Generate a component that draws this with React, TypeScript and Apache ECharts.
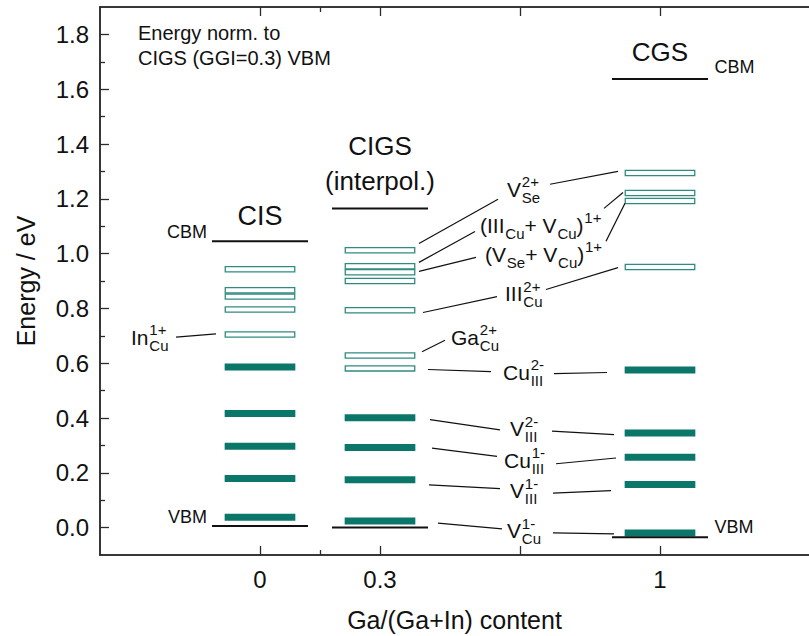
import React, { useEffect, useRef } from "react";
import * as echarts from "echarts";

// Ga/(Ga+In) content of each absorber column
const GGI = [0, 0.3, 1];
const COLUMN_NAMES = ["CIS", "CIGS", "CGS"];

// Defect transition levels in eV (normalised to the CIGS VBM)
const CIS_DONORS = [0.943, 0.866, 0.843, 0.796, 0.705];
const CIS_ACCEPTORS = [0.586, 0.416, 0.297, 0.179, 0.038];
const CIGS_DONORS = [1.012, 0.954, 0.932, 0.9, 0.793, 0.628, 0.581];
const CIGS_ACCEPTORS = [0.401, 0.292, 0.175, 0.024];
const CGS_DONORS = [1.294, 1.221, 1.192, 0.951];
const CGS_ACCEPTORS = [0.575, 0.345, 0.257, 0.157, -0.02];

// Band edges per column
const CBM = [1.045, 1.165, 1.637];
const VBM = [0.006, 0.0, -0.035];

// Axis ticks
const Y_TICKS = [0, 0.2, 0.4, 0.6, 0.8, 1.0, 1.2, 1.4, 1.6, 1.8];
const Y_MINOR_TICKS = [0.1, 0.3, 0.5, 0.7, 0.9, 1.1, 1.3, 1.5, 1.7];
const X_TICKS = [0, 0.3, 0.65, 1];
const X_TICK_LABELS = [0, 0.3, 1];
const X_MINOR_TICKS = [0.15];

// Defect names (_{} subscript, ^{} superscript)
const DEFECT_LABELS = [
  "In_{Cu}^{1+}",
  "V_{Se}^{2+}",
  "(III_{Cu}+ V_{Cu})^{1+}",
  "(V_{Se}+ V_{Cu})^{1+}",
  "III_{Cu}^{2+}",
  "Ga_{Cu}^{2+}",
  "Cu_{III}^{2-}",
  "V_{III}^{2-}",
  "Cu_{III}^{1-}",
  "V_{III}^{1-}",
  "V_{Cu}^{1-}",
];

// ---- layout (data coordinates) ----
const LABEL_ANCHORS: [number, number][] = [
  [-0.3225, 0.694],
  [0.6175, 1.234],
  [0.55, 1.103],
  [0.5625, 0.997],
  [0.6125, 0.854],
  [0.4775, 0.695],
  [0.6075, 0.566],
  [0.625, 0.36],
  [0.61, 0.246],
  [0.625, 0.135],
  [0.6175, -0.011],
];

const CONNECTORS: [number, number, number, number][] = [
  [-0.21, 0.695, -0.11, 0.707],
  [0.725, 1.253, 0.895, 1.3],
  [0.595, 1.198, 0.3975, 1.037],
  [0.5375, 1.081, 0.3975, 0.968],
  [0.86, 1.165, 0.9075, 1.223],
  [0.54, 0.986, 0.3975, 0.935],
  [0.865, 1.045, 0.9125, 1.184],
  [0.5925, 0.843, 0.4075, 0.785],
  [0.715, 0.869, 0.895, 0.949],
  [0.4625, 0.684, 0.405, 0.642],
  [0.42, 0.577, 0.5775, 0.569],
  [0.735, 0.562, 0.8675, 0.566],
  [0.425, 0.394, 0.6, 0.357],
  [0.73, 0.352, 0.885, 0.339],
  [0.43, 0.29, 0.5925, 0.26],
  [0.74, 0.233, 0.89, 0.254],
  [0.4225, 0.156, 0.6, 0.142],
  [0.7325, 0.126, 0.8775, 0.135],
  [0.445, 0.016, 0.605, -0.005],
  [0.7325, -0.019, 0.885, -0.023],
];

type Note = { text: string; x: number; y: number; size: number; align: "left" | "center" | "right" };
const NOTES: Note[] = [
  { text: "Energy norm. to", x: -0.305, y: 1.805, size: 20, align: "left" },
  { text: "CIGS (GGI=0.3) VBM", x: -0.305, y: 1.713, size: 20, align: "left" },
  { text: COLUMN_NAMES[0], x: GGI[0], y: 1.137, size: 27, align: "center" },
  { text: COLUMN_NAMES[1], x: GGI[1], y: 1.393, size: 26, align: "center" },
  { text: "(interpol.)", x: GGI[1], y: 1.265, size: 26, align: "center" },
  { text: COLUMN_NAMES[2], x: GGI[2], y: 1.735, size: 26, align: "center" },
  { text: "CBM", x: 1.136, y: 1.681, size: 18, align: "left" },
  { text: "CBM", x: -0.1325, y: 1.079, size: 18, align: "right" },
  { text: "VBM", x: -0.1325, y: 0.038, size: 18, align: "right" },
  { text: "VBM", x: 1.136, y: 0.001, size: 18, align: "left" },
];

const FONT = '"Liberation Sans", Arial, Helvetica, sans-serif';
const INK = "#111111";
const AXIS_COLOR = "#2b2b2b";
const ACCEPTOR_COLOR = "#0b776b";
const DONOR_STROKE = "#2f8c81";
const LEVEL_WIDTH = 0.1767;
const BAND_WIDTH = 0.24;
const MAIN_SIZE = 21;
const SCRIPT_SIZE = 15;

let measureCtx: CanvasRenderingContext2D | null = null;
function textWidth(text: string, size: number): number {
  if (!measureCtx) measureCtx = document.createElement("canvas").getContext("2d");
  if (!measureCtx) return text.length * size * 0.55;
  measureCtx.font = `${size}px ${FONT}`;
  return measureCtx.measureText(text).width;
}

type Token = { kind: "text" | "sub" | "sup"; text: string };
function tokenize(s: string): Token[] {
  const out: Token[] = [];
  let buf = "";
  let i = 0;
  while (i < s.length) {
    const c = s[i];
    if ((c === "_" || c === "^") && s[i + 1] === "{") {
      if (buf) out.push({ kind: "text", text: buf });
      buf = "";
      const end = s.indexOf("}", i + 2);
      out.push({ kind: c === "_" ? "sub" : "sup", text: s.slice(i + 2, end) });
      i = end + 1;
    } else {
      buf += c;
      i++;
    }
  }
  if (buf) out.push({ kind: "text", text: buf });
  return out;
}

// Lays out a label with stacked sub/superscripts as a row of text pieces
function scriptedText(s: string): any[] {
  const tokens = tokenize(s);
  const children: any[] = [];
  let x = 0;
  const mk = (text: string, px: number, py: number, size: number) => ({
    type: "text",
    x: px,
    y: py,
    style: {
      text,
      fontSize: size,
      lineHeight: size,
      fontFamily: FONT,
      fill: INK,
      align: "left",
      verticalAlign: "middle",
    },
  });
  for (let i = 0; i < tokens.length; i++) {
    const t = tokens[i];
    if (t.kind === "text") {
      children.push(mk(t.text, x, 0, MAIN_SIZE));
      x += textWidth(t.text, MAIN_SIZE);
    } else {
      const next = tokens[i + 1];
      const stacked = next && next.kind !== "text" && next.kind !== t.kind;
      const group = stacked ? [t, next] : [t];
      let adv = 0;
      for (const g of group) {
        const dy = g.kind === "sub" ? 8 : -7.6;
        children.push(mk(g.text, x + 0.8, dy, SCRIPT_SIZE));
        adv = Math.max(adv, textWidth(g.text, SCRIPT_SIZE));
      }
      x += adv + 0.8;
      if (stacked) i++;
    }
  }
  return children;
}

export default function App() {
  const ref = useRef<HTMLDivElement>(null);

  useEffect(() => {
    if (!ref.current) return;
    const chart = echarts.init(ref.current, null, { renderer: "svg" });

    // level data: [ggi, energy, kind]  kind 0 = acceptor, 1 = donor, 2 = band edge
    const levels: number[][] = [];
    const addLevels = (x: number, vals: number[], kind: number) =>
      vals.forEach((v) => levels.push([x, v, kind]));
    addLevels(GGI[0], CIS_DONORS, 1);
    addLevels(GGI[0], CIS_ACCEPTORS, 0);
    addLevels(GGI[1], CIGS_DONORS, 1);
    addLevels(GGI[1], CIGS_ACCEPTORS, 0);
    addLevels(GGI[2], CGS_DONORS, 1);
    addLevels(GGI[2], CGS_ACCEPTORS, 0);
    GGI.forEach((g, i) => {
      levels.push([g, CBM[i], 2]);
      levels.push([g, VBM[i], 2]);
    });

    const xMin = -0.4;
    const xMax = 1.3725;
    const yMin = -0.1;
    const yMax = 1.9;

    const baseX = {
      type: "value",
      min: xMin,
      max: xMax,
      splitLine: { show: false },
      axisLine: { show: true, onZero: false, lineStyle: { color: AXIS_COLOR, width: 1.5 } },
    };
    const baseY = {
      type: "value",
      min: yMin,
      max: yMax,
      position: "left",
      splitLine: { show: false },
      axisLine: { show: true, onZero: false, lineStyle: { color: AXIS_COLOR, width: 1.5 } },
    };

    const option: any = {
      animation: false,
      backgroundColor: "#ffffff",
      grid: { left: 100, right: 0, top: 7, bottom: 81, outerBoundsMode: "none", containLabel: false },
      xAxis: [
        {
          ...baseX,
          position: "bottom",
          name: "Ga/(Ga+In) content",
          nameLocation: "middle",
          nameGap: 52,
          nameTextStyle: { fontSize: 25, fontFamily: FONT, color: INK },
          axisTick: { show: true, inside: true, length: 9, customValues: X_TICKS, lineStyle: { color: AXIS_COLOR, width: 1.3 } },
          axisLabel: {
            show: true,
            customValues: X_TICK_LABELS,
            margin: 12,
            fontSize: 24,
            fontFamily: FONT,
            color: INK,
            formatter: (v: number) => String(v),
          },
        },
        {
          ...baseX,
          position: "bottom",
          axisTick: { show: true, inside: true, length: 5, customValues: X_MINOR_TICKS, lineStyle: { color: AXIS_COLOR, width: 1.3 } },
          axisLabel: { show: false },
        },
        {
          ...baseX,
          position: "top",
          axisTick: { show: true, inside: true, length: 9, customValues: X_TICKS, lineStyle: { color: AXIS_COLOR, width: 1.3 } },
          axisLabel: { show: false },
        },
        {
          ...baseX,
          position: "top",
          axisTick: { show: true, inside: true, length: 5, customValues: X_MINOR_TICKS, lineStyle: { color: AXIS_COLOR, width: 1.3 } },
          axisLabel: { show: false },
        },
      ],
      yAxis: [
        {
          ...baseY,
          name: "Energy / eV",
          nameLocation: "middle",
          nameGap: 62,
          nameTextStyle: { fontSize: 25, fontFamily: FONT, color: INK },
          axisTick: { show: true, inside: true, length: 9, customValues: Y_TICKS, lineStyle: { color: AXIS_COLOR, width: 1.3 } },
          axisLabel: {
            show: true,
            customValues: Y_TICKS,
            margin: 11,
            fontSize: 24,
            fontFamily: FONT,
            color: INK,
            formatter: (v: number) => v.toFixed(1),
          },
        },
        {
          ...baseY,
          axisTick: { show: true, inside: true, length: 5, customValues: Y_MINOR_TICKS, lineStyle: { color: AXIS_COLOR, width: 1.3 } },
          axisLabel: { show: false },
        },
      ],
      series: [
        {
          type: "custom",
          name: "levels",
          xAxisIndex: 0,
          yAxisIndex: 0,
          clip: false,
          silent: true,
          data: levels,
          renderItem: (_params: any, api: any) => {
            const x = api.value(0);
            const y = api.value(1);
            const kind = api.value(2);
            const [cx, cy] = api.coord([x, y]);
            if (kind === 2) {
              const w = api.size([BAND_WIDTH, 0])[0];
              return {
                type: "line",
                shape: { x1: cx - w / 2, y1: cy, x2: cx + w / 2, y2: cy },
                style: { stroke: INK, lineWidth: 2 },
                z2: 10,
              };
            }
            const w = api.size([LEVEL_WIDTH, 0])[0];
            if (kind === 0) {
              return {
                type: "rect",
                shape: { x: cx - w / 2, y: cy - 3.5, width: w, height: 7 },
                style: { fill: ACCEPTOR_COLOR },
              };
            }
            return {
              type: "rect",
              shape: { x: cx - w / 2 + 0.6, y: cy - 2.6, width: w - 1.2, height: 5.2 },
              style: { fill: "#ffffff", stroke: DONOR_STROKE, lineWidth: 1.3 },
            };
          },
        },
        {
          type: "custom",
          name: "connectors",
          xAxisIndex: 0,
          yAxisIndex: 0,
          clip: false,
          silent: true,
          data: CONNECTORS,
          renderItem: (_params: any, api: any) => {
            const p1 = api.coord([api.value(0), api.value(1)]);
            const p2 = api.coord([api.value(2), api.value(3)]);
            return {
              type: "line",
              shape: { x1: p1[0], y1: p1[1], x2: p2[0], y2: p2[1] },
              style: { stroke: INK, lineWidth: 1.2 },
            };
          },
        },
        {
          type: "custom",
          name: "defect labels",
          xAxisIndex: 0,
          yAxisIndex: 0,
          clip: false,
          silent: true,
          data: LABEL_ANCHORS,
          renderItem: (params: any, api: any) => {
            const [px, py] = api.coord([api.value(0), api.value(1)]);
            return {
              type: "group",
              x: px,
              y: py,
              children: scriptedText(DEFECT_LABELS[params.dataIndex]),
            };
          },
        },
        {
          type: "custom",
          name: "notes",
          xAxisIndex: 0,
          yAxisIndex: 0,
          clip: false,
          silent: true,
          data: NOTES.map((n) => [n.x, n.y]),
          renderItem: (params: any, api: any) => {
            const n = NOTES[params.dataIndex];
            const [px, py] = api.coord([api.value(0), api.value(1)]);
            return {
              type: "text",
              x: px,
              y: py,
              style: {
                text: n.text,
                fontSize: n.size,
                fontFamily: FONT,
                fill: INK,
                align: n.align,
                verticalAlign: "middle",
              },
            };
          },
        },
      ],
    };

    chart.setOption(option);
    return () => chart.dispose();
  }, []);

  return (
    <div
      ref={ref}
      style={{ position: "fixed", left: 0, top: 0, width: 809, height: 636, background: "#ffffff" }}
    />
  );
}
